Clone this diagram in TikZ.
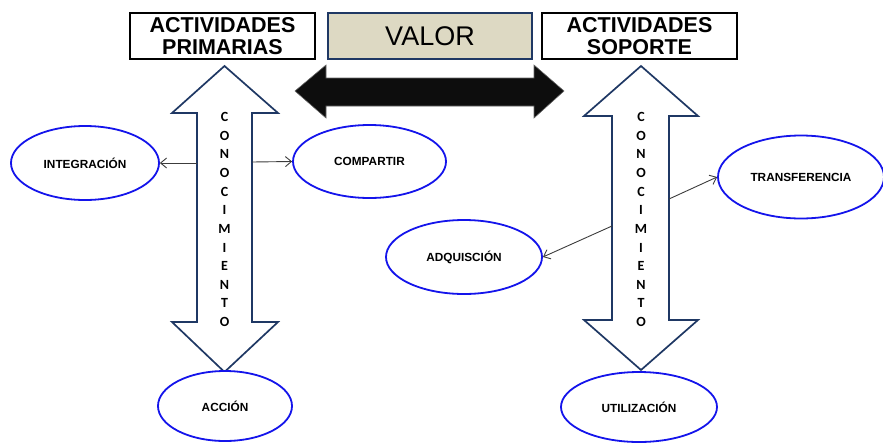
\documentclass[tikz,border=0pt]{standalone}
\usepackage{fontspec}
\setmainfont{Liberation Sans}
\newfontfamily\letterfont{Carlito}
\usetikzlibrary{shapes.geometric,arrows.meta}

\definecolor{ovalblue}{RGB}{20,20,235}
\definecolor{navyline}{RGB}{31,56,100}
\definecolor{tanfill}{RGB}{221,217,195}
\definecolor{linkgray}{RGB}{60,60,60}

\tikzset{
  headbox/.style={draw=black, line width=1.6pt, fill=white, minimum height=46pt,
    inner sep=0pt, align=center, font=\fontsize{21.5}{22}\selectfont\bfseries},
  valuebox/.style={draw=navyline, line width=1.6pt, fill=tanfill, minimum height=46pt,
    inner sep=0pt, font=\fontsize{27}{28}\selectfont},
  oval/.style={ellipse, draw=ovalblue, line width=1.8pt, fill=white, inner sep=0pt,
    font=\fontsize{11.8}{12}\selectfont\bfseries},
  bigarrow/.style={draw=navyline, line width=1.7pt, fill=white, line join=miter},
  stack/.style={align=center, inner sep=0pt,
    font=\letterfont\bfseries\fontsize{14}{18.64}\selectfont},
  link/.style={draw=linkgray, line width=0.9pt, -{Straight Barb[length=6pt,width=10pt]}},
  valuearrow/.style={fill=black!95, draw=black!60, line width=0.6pt}
}

\begin{document}
\begin{tikzpicture}[x=1pt,y=-1pt]
\useasboundingbox (0,0) rectangle (883,442);

% header boxes
\node[headbox, minimum width=185pt] (prim) at (222.5,36) {ACTIVIDADES\\PRIMARIAS};
\node[valuebox, minimum width=204pt] (valor) at (430,36) {VALOR};
\node[headbox, minimum width=195pt] (sop) at (639.5,36) {ACTIVIDADES\\SOPORTE};

% black double arrow under VALOR
\fill[valuearrow] (295,91) -- (326,65) -- (326,78) -- (534,78) -- (534,65)
  -- (564,91) -- (534,118) -- (534,106) -- (326,106) -- (326,118) -- cycle;

% left vertical double arrow (primary activities)
\draw[bigarrow] (224.5,66) -- (278,113) -- (252,113) -- (252,322) -- (278,322)
  -- (224.5,372) -- (172,322) -- (197,322) -- (197,113) -- (172,113) -- cycle;
\node[stack] (lconoc) at (224.5,219.5) {C\\O\\N\\O\\C\\I\\M\\I\\E\\N\\T\\O};
\coordinate (lleft) at (197,163);
\coordinate (lright) at (252,162);

% right vertical double arrow (support activities)
\draw[bigarrow] (641,66) -- (698,116) -- (669,116) -- (669,320) -- (698,320)
  -- (641,370) -- (584,320) -- (612,320) -- (612,116) -- (584,116) -- cycle;
\node[stack] (rconoc) at (641,219.5) {C\\O\\N\\O\\C\\I\\M\\I\\E\\N\\T\\O};
\coordinate (rleft) at (612,226);
\coordinate (rright) at (669,199);

% ovals
\node[oval, minimum width=148pt, minimum height=74pt] (integ) at (85,163) {INTEGRACIÓN};
\node[oval, minimum width=153pt, minimum height=73pt] (comp) at (369.5,161.5) {COMPARTIR};
\node[oval, minimum width=134pt, minimum height=70pt] (accion) at (225,406) {ACCIÓN};
\node[oval, minimum width=156pt, minimum height=74pt] (adq) at (464,257) {ADQUISCIÓN};
\node[oval, minimum width=166pt, minimum height=83pt] (trans) at (801,177) {TRANSFERENCIA};
\node[oval, minimum width=156pt, minimum height=70pt] (util) at (639,407) {UTILIZACIÓN};

% connectors
\draw[link] (lleft) -- (integ.east);
\draw[link] (lright) -- (comp.west);
\draw[link] (rleft) -- (adq.east);
\draw[link] (rright) -- (trans.west);
\end{tikzpicture}
\end{document}
